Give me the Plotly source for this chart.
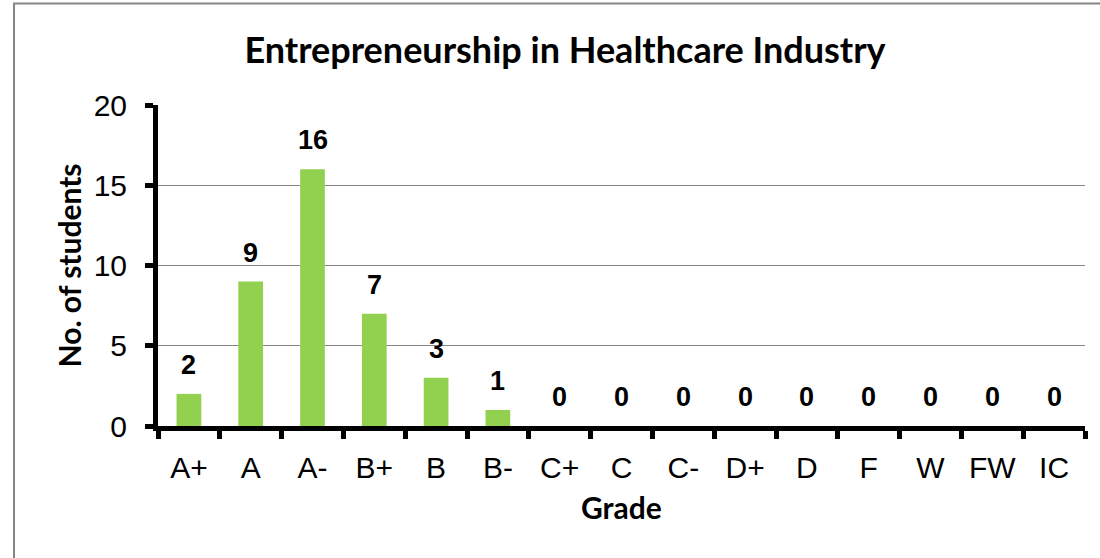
import plotly.graph_objects as go

grades = ["A+", "A", "A-", "B+", "B", "B-", "C+", "C", "C-", "D+", "D", "F", "W", "FW", "IC"]
students = [2, 9, 16, 7, 3, 1, 0, 0, 0, 0, 0, 0, 0, 0, 0]
y_ticks = [0, 5, 10, 15, 20]

title_text = "Entrepreneurship in Healthcare Industry"
x_title = "Grade"
y_title = "No. of students"

W, H = 1100, 558
PL, PR, PT, PB = 158, 1085, 105, 426  # plot area in screen pixels
L, T = PL, PT
R, B = W - PR, H - PB
pw, ph = W - L - R, H - T - B

def px_x(p):
    return (p - PL) / pw

def px_y(p):
    return (PB - p) / ph

fig = go.Figure()
fig.add_trace(go.Bar(
    x=grades, y=students,
    marker=dict(color="#92D050", line=dict(width=0)),
    hoverinfo="x+y",
))

annotations = []
for g, v in zip(grades, students):
    annotations.append(dict(
        x=g, y=v, xref="x", yref="y", text=f"<b>{v}</b>", showarrow=False,
        yanchor="bottom", yshift=12,
        font=dict(family="Liberation Sans, Arial", size=27, color="#000000"),
    ))

annotations.append(dict(
    x=0.5, y=px_y(507), xref="paper", yref="paper", text=f"<b>{x_title}</b>",
    showarrow=False, xanchor="center", yanchor="middle",
    font=dict(family="Lato, Calibri, sans-serif", size=30, color="#000000"),
))
annotations.append(dict(
    x=px_x(68), y=0.5, xref="paper", yref="paper", text=f"<b>{y_title}</b>",
    showarrow=False, xanchor="center", yanchor="middle", textangle=-90,
    font=dict(family="Lato, Calibri, sans-serif", size=30, color="#000000"),
))

fig.update_layout(
    width=W, height=H,
    margin=dict(l=L, r=R, t=T, b=B, pad=0),
    paper_bgcolor="white", plot_bgcolor="white",
    showlegend=False,
    bargap=0.6,
    title=dict(
        text=f"<b>{title_text}</b>", xref="container", yref="container",
        x=565 / W, y=1 - 50 / H, xanchor="center", yanchor="middle",
        font=dict(family="Lato, Calibri, sans-serif", size=36, color="#000000"),
    ),
    annotations=annotations,
    shapes=[dict(
        type="rect", xref="paper", yref="paper",
        x0=px_x(14), x1=px_x(1300), y0=px_y(3.5), y1=px_y(800),
        line=dict(color="#868686", width=2), fillcolor="rgba(0,0,0,0)", layer="below",
    )],
    xaxis=dict(
        type="category", showgrid=False, showline=True, linecolor="#000000", linewidth=5,
        ticks="outside", tickson="boundaries", ticklen=8, tickwidth=5, tickcolor="#000000",
        tickfont=dict(family="Liberation Sans, Arial", size=30, color="#000000"),
        ticklabelstandoff=11, zeroline=False,
    ),
    yaxis=dict(
        range=[0, 20], tickvals=y_ticks, showgrid=True, gridcolor="#868686", gridwidth=1,
        showline=True, linecolor="#000000", linewidth=5,
        ticks="outside", ticklen=8, tickwidth=5, tickcolor="#000000",
        tickfont=dict(family="Liberation Sans, Arial", size=30, color="#000000"),
        ticklabelstandoff=12, zeroline=False,
    ),
)

fig.write_html(
    "out.html",
    config={"displayModeBar": False},
    post_script="document.body.style.margin='0';document.body.style.overflow='hidden';",
)
